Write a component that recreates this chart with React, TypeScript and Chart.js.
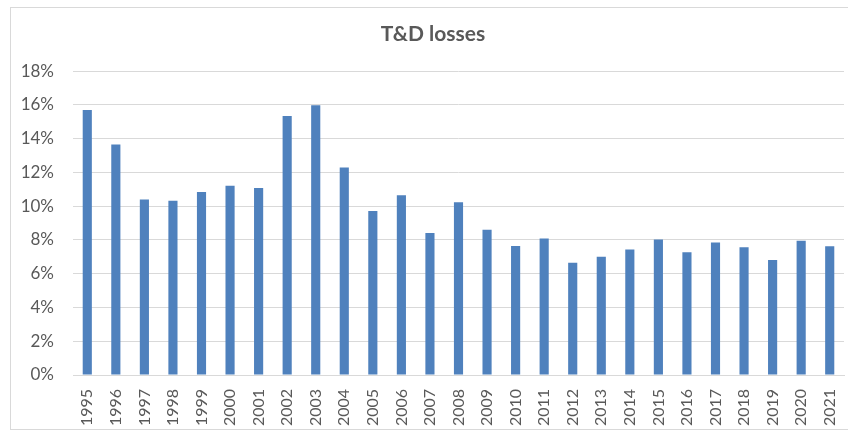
import React, { useEffect, useRef } from "react";
import { Chart, registerables } from "chart.js";

Chart.register(...registerables);

const years = [
  "1995", "1996", "1997", "1998", "1999", "2000", "2001", "2002", "2003",
  "2004", "2005", "2006", "2007", "2008", "2009", "2010", "2011", "2012",
  "2013", "2014", "2015", "2016", "2017", "2018", "2019", "2020", "2021",
];
const losses = [
  15.7, 13.65, 10.4, 10.33, 10.85, 11.22, 11.08, 15.35, 15.98,
  12.29, 9.72, 10.65, 8.42, 10.24, 8.6, 7.65, 8.09, 6.65,
  7.0, 7.44, 8.03, 7.28, 7.85, 7.57, 6.82, 7.95, 7.63,
];
const titleText = "T&D losses";
const yMax = 18;
const yStep = 2;

export default function App() {
  const ref = useRef<HTMLCanvasElement | null>(null);
  useEffect(() => {
    document.body.style.margin = "0";
    const ctx = ref.current!;
    const chart = new Chart(ctx, {
      type: "bar",
      data: {
        labels: years,
        datasets: [
          {
            data: losses,
            backgroundColor: "#4f81bd",
            barPercentage: 0.32,
            categoryPercentage: 1,
          },
        ],
      },
      options: {
        animation: false,
        responsive: false,
        maintainAspectRatio: false,
        layout: { padding: { left: 22, right: 4, top: 0, bottom: 0 } },
        plugins: {
          legend: { display: false },
          tooltip: { enabled: false },
          title: {
            display: true,
            text: titleText,
            color: "#595959",
            font: { family: "Lato", size: 21, weight: "bold" },
            padding: { top: 22, bottom: 24 },
          },
        },
        scales: {
          x: {
            grid: { display: false, drawTicks: false },
            border: { display: true, color: "#d9d9d9", width: 1 },
            ticks: {
              color: "#595959",
              font: { family: "Lato", size: 16 },
              minRotation: 90,
              maxRotation: 90,
              autoSkip: false,
              padding: 14,
            },
            afterFit: (s: any) => {
              s.height = 61;
              s.paddingLeft = 0;
              s.paddingRight = 0;
            },
          },
          y: {
            min: 0,
            max: yMax,
            grid: { color: "#d9d9d9", drawTicks: false, lineWidth: 1 },
            border: { display: false },
            ticks: {
              stepSize: yStep,
              color: "#595959",
              font: { family: "Lato", size: 17 },
              padding: 19,
              callback: (v: any) => `${v}%`,
            },
            afterFit: (s: any) => {
              s.width = 51;
              s.paddingTop = 0;
              s.paddingBottom = 0;
            },
          },
        },
      },
    });
    return () => chart.destroy();
  }, []);
  return (
    <div style={{ position: "relative", width: 848, height: 436, background: "#fff" }}>
      <div
        style={{
          position: "absolute",
          left: 10,
          top: 7,
          width: 860,
          height: 423,
          border: "1px solid #d9d9d9",
          boxSizing: "border-box",
        }}
      />
      <canvas
        ref={ref}
        width={848}
        height={436}
        style={{ position: "absolute", left: 0, top: 0 }}
      />
    </div>
  );
}
